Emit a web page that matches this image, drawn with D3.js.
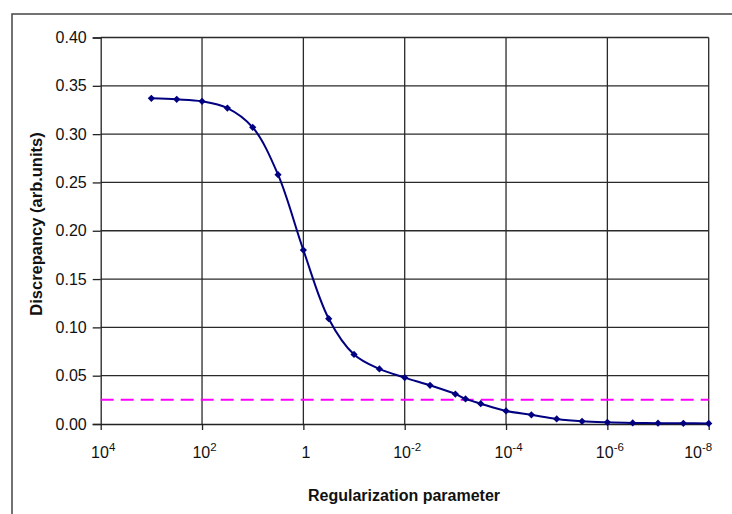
<!DOCTYPE html>
<html>
<head>
<meta charset="utf-8">
<script src="https://cdn.jsdelivr.net/npm/d3@7"></script>
<style>
  body { margin: 0; background: #fff; }
  text { font-family: 'Liberation Sans', Arial, sans-serif; fill: #111; }
  .tick text { font-size: 16px; }
  .title { font-size: 16px; font-weight: bold; }
</style>
</head>
<body>
<div id="container"></div>
<script>
const w = 732,
  h = 514;

// regularization parameter (x) and discrepancy (y)
const lambdas = [1e3, 316, 100, 31.6, 10, 3.16, 1, 0.316, 0.1, 0.0316, 0.01, 0.00316,
  1e-3, 6.3e-4, 3.16e-4, 1e-4, 3.16e-5, 1e-5, 3.16e-6, 1e-6, 3.16e-7, 1e-7, 3.16e-8, 1e-8];
const discrepancy = [0.337, 0.336, 0.334, 0.327, 0.307, 0.258, 0.18, 0.109, 0.072, 0.057, 0.048, 0.040,
  0.031, 0.026, 0.021, 0.0135, 0.0095, 0.0052, 0.0028, 0.0017, 0.0011, 0.0008, 0.0007, 0.0006];
const threshold = 0.025;

const xTicks = [1e4, 1e2, 1, 1e-2, 1e-4, 1e-6, 1e-8];
const xTickExp = ['4', '2', '', '-2', '-4', '-6', '-8'];
const yTicks = [0, 0.05, 0.1, 0.15, 0.2, 0.25, 0.3, 0.35, 0.4];

const plotLeft = 100.7,
  plotRight = 708.7,
  plotTop = 37.5,
  plotBottom = 424;

const svg = d3.select('#container').append('svg').attr('width', w).attr('height', h);

// outer chart frame (runs off the right and bottom of the page)
svg
  .append('path')
  .attr('d', 'M12,' + (h + 2) + 'V14H' + (w + 2))
  .attr('fill', 'none')
  .attr('stroke', '#444')
  .attr('stroke-width', 1.5);

const xScale = d3.scaleLog().domain([1e4, 1e-8]).range([plotLeft, plotRight]);
const yScale = d3.scaleLinear().domain([0, 0.4]).range([plotBottom, plotTop]);

// grid
svg
  .append('g')
  .selectAll('line')
  .data(yTicks.slice(1))
  .enter()
  .append('line')
  .attr('x1', plotLeft)
  .attr('x2', plotRight)
  .attr('y1', (d) => yScale(d))
  .attr('y2', (d) => yScale(d))
  .attr('stroke', '#2a2a2a')
  .attr('stroke-width', 1.3);
svg
  .append('g')
  .selectAll('line')
  .data(xTicks.slice(1))
  .enter()
  .append('line')
  .attr('x1', (d) => xScale(d))
  .attr('x2', (d) => xScale(d))
  .attr('y1', plotTop)
  .attr('y2', plotBottom)
  .attr('stroke', '#2a2a2a')
  .attr('stroke-width', 1.3);

// axes
const yAxis = d3.axisLeft(yScale).tickValues(yTicks).tickFormat(d3.format('.2f')).tickSize(8).tickPadding(6);
svg
  .append('g')
  .attr('transform', 'translate(' + plotLeft + ',0)')
  .call(yAxis)
  .call((g) => g.selectAll('path, line').attr('stroke', '#222').attr('stroke-width', 1.3));

const xAxis = d3.axisBottom(xScale).tickValues(xTicks).tickFormat(() => '').tickSize(6).tickSizeOuter(0);
const xg = svg
  .append('g')
  .attr('transform', 'translate(0,' + plotBottom + ')')
  .call(xAxis)
  .call((g) => g.selectAll('path, line').attr('stroke', '#222').attr('stroke-width', 1.3));

xg.selectAll('.tick').each(function (d, i) {
  const last = i === xTicks.length - 1;
  const t = d3
    .select(this)
    .select('text')
    .attr('y', 33.5)
    .attr('dy', null)
    .attr('text-anchor', last ? 'end' : 'middle')
    .attr('x', last ? 3 : 2);
  if (xTickExp[i] === '') {
    t.text('1');
  } else {
    t.append('tspan').text('10');
    t.append('tspan').attr('dy', -7).style('font-size', '11.5px').text(xTickExp[i]);
  }
});

// threshold line
svg
  .append('line')
  .attr('x1', plotLeft)
  .attr('x2', plotRight)
  .attr('y1', yScale(threshold))
  .attr('y2', yScale(threshold))
  .attr('stroke', '#ff00ff')
  .attr('stroke-width', 2)
  .attr('stroke-dasharray', '13,7');

// data
const line = d3
  .line()
  .x((d, i) => xScale(lambdas[i]))
  .y((d) => yScale(d))
  .curve(d3.curveCatmullRom);

svg
  .append('path')
  .datum(discrepancy)
  .attr('d', line)
  .attr('fill', 'none')
  .attr('stroke', '#000080')
  .attr('stroke-width', 2);

svg
  .append('g')
  .selectAll('path')
  .data(discrepancy)
  .enter()
  .append('path')
  .attr('d', d3.symbol(d3.symbolSquare, 26))
  .attr('transform', (d, i) => 'translate(' + xScale(lambdas[i]) + ',' + yScale(d) + ') rotate(45)')
  .attr('fill', '#000080');

// titles
svg
  .append('text')
  .attr('class', 'title')
  .text('Regularization parameter')
  .attr('x', 404)
  .attr('y', 501)
  .attr('text-anchor', 'middle');

svg
  .append('text')
  .attr('class', 'title')
  .text('Discrepancy (arb.units)')
  .style('font-size', '16.5px')
  .attr('transform', 'translate(41.5,224) rotate(-90)')
  .attr('text-anchor', 'middle');
</script>
</body>
</html>
